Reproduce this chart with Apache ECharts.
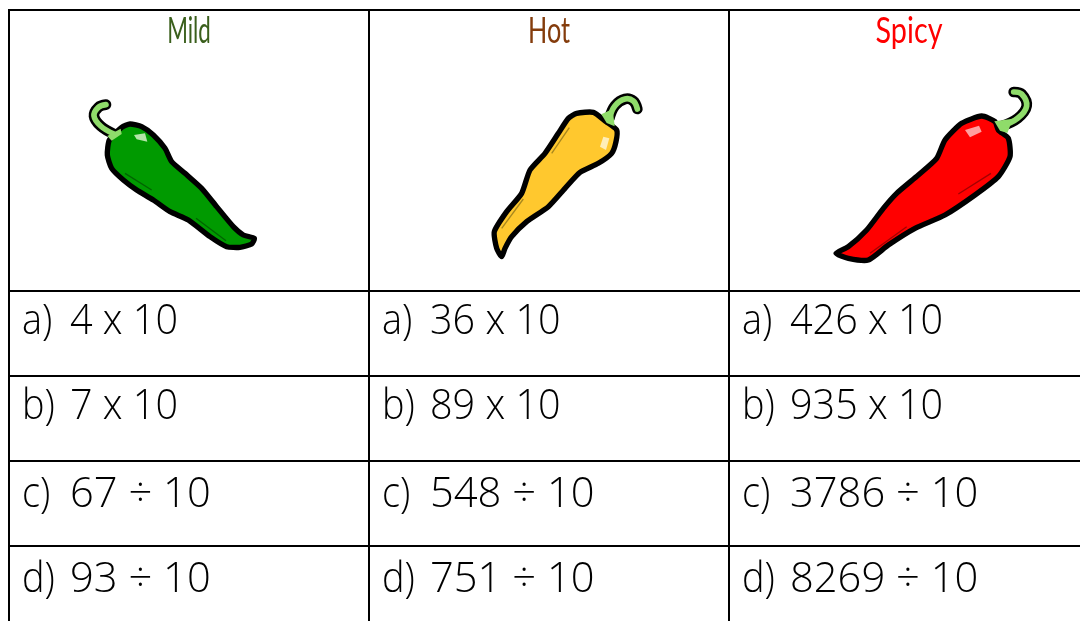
<!DOCTYPE html>
<html>
<head>
<meta charset="utf-8">
<style>html,body{margin:0;background:#fff}#main{width:1080px;height:621px}</style>
<script src="https://cdn.jsdelivr.net/npm/echarts@6/dist/echarts.min.js"></script>
</head>
<body>
<div id="main"></div>
<script>
var headers = ['Mild', 'Hot', 'Spicy'];
var headerColors = ['#3a5f1c', '#843c0c', '#ff0000'];
var letters = ['a)', 'b)', 'c)', 'd)'];
var mild = ['4 x 10', '7 x 10', '67 ÷ 10', '93 ÷ 10'];
var hot = ['36 x 10', '89 x 10', '548 ÷ 10', '751 ÷ 10'];
var spicy = ['426 x 10', '935 x 10', '3786 ÷ 10', '8269 ÷ 10'];
var rowLines = [0, 281, 366, 451, 536, 640];

var columns = [mild, hot, spicy];
var headerScale = [0.62, 0.7, 0.8];
var cells = [];
columns.forEach(function (col, c) {
  cells.push([c, 0]);
  col.forEach(function (q, r) { cells.push([c, r + 1]); });
});

function renderCell(params, api) {
  var c = api.value(0), r = api.value(1);
  var p0 = api.coord([c, rowLines[r]]);
  var p1 = api.coord([c + 1, rowLines[r + 1]]);
  var kids = [{
    type: 'rect',
    shape: { x: p0[0], y: p0[1], width: p1[0] - p0[0], height: p1[1] - p0[1] },
    style: { fill: 'none', stroke: '#000', lineWidth: 2 }
  }];
  if (r === 0) {
    kids.push({
      type: 'text',
      x: (p0[0] + p1[0]) / 2,
      y: p0[1] + 21,
      scaleX: headerScale[c],
      originX: 0,
      style: { text: headers[c], fill: headerColors[c], font: '400 36px Lato', align: 'center', verticalAlign: 'middle' }
    });
  } else {
    var base = { fill: '#000', font: '300 43px "Open Sans"', verticalAlign: 'middle' };
    // the ÷ rows sit wider and a little lower than the x rows
    var wide = r >= 3 ? 0.97 : 0.92;
    var dy = r >= 3 ? 34 : 31;
    kids.push({
      type: 'text', x: p0[0] + 13, y: p0[1] + dy, scaleX: 0.88,
      style: Object.assign({ text: letters[r - 1] }, base)
    });
    kids.push({
      type: 'text', x: p0[0] + 61, y: p0[1] + dy, scaleX: wide,
      style: Object.assign({ text: columns[c][r - 1] }, base)
    });
  }
  return { type: 'group', children: kids };
}

// pepper drawings at 3x
function pepper(ox, oy, fill, shine, crease, body, glint, lines, calyx, stem) {
  var els = [
    { type: 'polyline', shape: { points: stem, smooth: 0.4 }, style: { fill: 'none', stroke: '#000', lineWidth: 32, lineCap: 'round' } },
    { type: 'polygon', shape: { points: body, smooth: 0.2 }, style: { fill: fill, stroke: '#000', lineWidth: 16, lineJoin: 'round' } },
    { type: 'polyline', shape: { points: stem, smooth: 0.4 }, style: { fill: 'none', stroke: '#8fdc6a', lineWidth: 17, lineCap: 'round' } },
    { type: 'polygon', shape: { points: calyx }, style: { fill: '#8fdc6a' } },
    { type: 'polygon', shape: { points: glint }, style: { fill: shine } }
  ];
  lines.forEach(function (l) {
    els.push({ type: 'polyline', shape: { points: l }, style: { fill: 'none', stroke: crease, lineWidth: 4 } });
  });
  return { type: 'group', x: ox, y: oy, scaleX: 1 / 3, scaleY: 1 / 3, children: els };
}

var chart = echarts.init(document.getElementById('main'));
chart.setOption({
  animation: false,
  grid: { left: 9, top: 10, right: 0, bottom: 0 },
  xAxis: { type: 'value', min: 0, max: 2.975, show: false },
  yAxis: { type: 'value', min: 0, max: 611, inverse: true, show: false },
  series: [{
    type: 'custom',
    coordinateSystem: 'cartesian2d',
    clip: false,
    silent: true,
    data: cells,
    renderItem: renderCell
  }],
  graphic: [
    pepper(70, 90, '#009a00', '#b4e4a8', '#006400',
      [[155,112],[180,102],[215,110],[250,135],[285,175],[305,215],[345,250],[395,295],[440,350],[490,410],[520,435],[553,445],[545,462],[510,472],[470,470],[420,440],[355,390],[300,365],[250,330],[200,300],[160,270],[125,235],[112,195],[118,150]],
      [[192,135],[225,130],[232,155],[200,148]],
      [[[165,250],[245,300]], [[378,385],[468,452]]],
      [[112,138],[152,116],[155,132],[125,152]],
      [[132,132],[92,108],[72,78],[85,52],[108,44]]),
    pepper(480, 85, '#ffc82e', '#ffeeb8', '#a8871e',
      [[290,85],[340,82],[378,110],[410,135],[408,170],[395,205],[355,235],[300,262],[255,310],[205,365],[140,410],[95,455],[75,490],[65,515],[50,490],[43,440],[80,380],[125,325],[150,255],[195,205],[235,145],[265,100]],
      [[370,155],[388,160],[378,195],[360,185]],
      [[[215,205],[268,128]], [[65,430],[130,342]]],
      [[364,88],[398,72],[404,124],[380,114]],
      [[388,100],[405,62],[435,42],[460,48],[472,72]]),
    pepper(825, 80, '#ff0000', '#ff9f9f', '#a30000',
      [[410,130],[470,108],[510,125],[520,150],[550,175],[555,230],[520,290],[450,345],[360,405],[270,445],[190,495],[130,540],[70,535],[33,520],[70,500],[125,450],[175,385],[215,340],[280,285],[335,235],[360,180]],
      [[420,150],[462,137],[470,155],[435,172]],
      [[[400,342],[498,280]], [[135,520],[245,440]]],
      [[508,124],[564,116],[547,159],[525,152]],
      [[530,138],[578,115],[605,78],[590,42],[566,36]])
  ]
});
</script>
</body>
</html>
